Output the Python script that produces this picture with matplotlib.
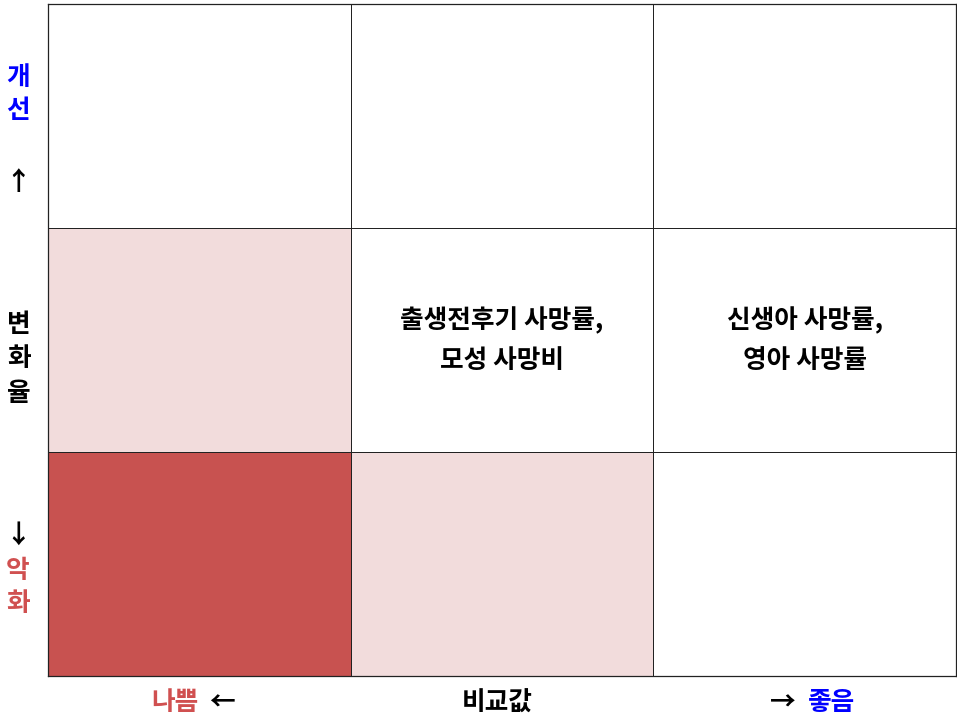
import matplotlib.pyplot as plt
import numpy as np
from matplotlib.colors import ListedColormap

plt.rcParams['font.family'] = ['Noto Sans CJK KR', 'DejaVu Sans']

# 행: 개선(위) -> 악화(아래), 열: 나쁨 -> 좋음
levels = [[0, 0, 0],
          [1, 0, 0],
          [2, 1, 0]]
cell_texts = {(1, 1): '출생전후기 사망률,\n모성 사망비',
              (1, 2): '신생아 사망률,\n영아 사망률'}
x_labels = ['나쁨', '비교값', '좋음']
y_labels = ['개\n선', '변\n화\n율', '악\n화']

W, H = 957, 720
fig = plt.figure(figsize=(W / 100, H / 100), dpi=100)
ax = fig.add_axes([48 / W, 1 - 676 / H, (956 - 48) / W, (676 - 4) / H])

cmap = ListedColormap(['white', '#f2dcdc', '#c85250'])
ax.pcolormesh(np.array(levels)[::-1], cmap=cmap, vmin=-0.5, vmax=2.5,
              edgecolors='#222222', linewidth=0.7)
ax.set_xlim(0, 3)
ax.set_ylim(0, 3)
ax.set_xticks([])
ax.set_yticks([])
for s in ax.spines.values():
    s.set_color('#222222')
    s.set_linewidth(0.9)

for (r, c), t in cell_texts.items():
    ax.text(c + 0.5, 2.5 - r, t, ha='center', va='center', fontsize=18.5,
            fontweight='bold', linespacing=1.6)

def px(x, y):
    return x / W, 1 - y / H

kw = dict(ha='center', va='center', fontsize=18.5, fontweight='bold')
# 왼쪽 라벨
fig.text(*px(18, 94), y_labels[0], color='#0000ff', linespacing=1.3, **kw)
fig.text(*px(18, 183), '↑', color='black', **kw)
fig.text(*px(19, 359), y_labels[1], color='black', linespacing=1.35, **kw)
fig.text(*px(18, 535), '↓', color='black', **kw)
fig.text(*px(18, 587), y_labels[2], color='#d05050', linespacing=1.3, **kw)

# 아래 라벨
fig.text(*px(175, 703), x_labels[0], color='#d05050', **kw)
fig.text(*px(222, 703), '←', color='black', **kw)
fig.text(*px(497, 703), x_labels[1], color='black', **kw)
fig.text(*px(783, 703), '→', color='black', **kw)
fig.text(*px(832, 703), x_labels[2], color='#0000ff', **kw)

fig.savefig('out.png', dpi=100)
